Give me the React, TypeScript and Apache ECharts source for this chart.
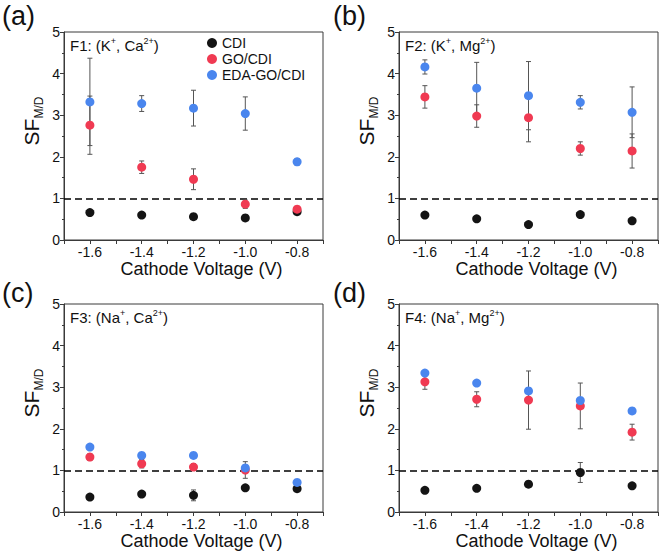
import React, { useEffect, useRef } from "react";
import * as echarts from "echarts";

const voltages = [-1.6, -1.4, -1.2, -1.0, -0.8];
const seriesNames = ["CDI", "GO/CDI", "EDA-GO/CDI"];
const yTicks = [0, 1, 2, 3, 4, 5];

// Panel (a) F1: (K+, Ca2+)
const cdiA = [0.66, 0.6, 0.56, 0.53, 0.68];
const cdiAErr = [0.05, 0.04, 0.04, 0.04, 0.05];
const goA = [2.76, 1.75, 1.46, 0.86, 0.74];
const goAErr = [0.7, 0.15, 0.25, 0.1, 0.06];
const edaA = [3.32, 3.28, 3.17, 3.04, 1.88];
const edaAErr = [1.05, 0.19, 0.43, 0.4, 0.08];

// Panel (b) F2: (K+, Mg2+)
const cdiB = [0.6, 0.51, 0.37, 0.61, 0.46];
const cdiBErr = [0.03, 0.03, 0.03, 0.03, 0.03];
const goB = [3.44, 2.98, 2.94, 2.2, 2.14];
const goBErr = [0.27, 0.27, 0.58, 0.16, 0.41];
const edaB = [4.16, 3.65, 3.47, 3.31, 3.07];
const edaBErr = [0.17, 0.62, 0.82, 0.16, 0.61];

// Panel (c) F3: (Na+, Ca2+)
const cdiC = [0.36, 0.43, 0.4, 0.58, 0.56];
const cdiCErr = [0.03, 0.03, 0.13, 0.04, 0.04];
const goC = [1.32, 1.16, 1.08, 1.01, null];
const goCErr = [0.08, 0.1, 0.08, 0.2, null];
const edaC = [1.56, 1.36, 1.36, 1.06, 0.71];
const edaCErr = [0.03, 0.03, 0.03, 0.06, 0.06];

// Panel (d) F4: (Na+, Mg2+)
const cdiD = [0.52, 0.57, 0.67, 0.95, 0.63];
const cdiDErr = [0.03, 0.03, 0.03, 0.24, 0.03];
const goD = [3.13, 2.71, 2.69, 2.55, 1.92];
const goDErr = [0.18, 0.18, 0.7, 0.55, 0.19];
const edaD = [3.34, 3.1, 2.91, 2.68, 2.43];
const edaDErr = [0.03, 0.03, 0.03, 0.03, 0.03];

const panelLetters = ["(a)", "(b)", "(c)", "(d)"];
const panelTags = ["F1", "F2", "F3", "F4"];
const panelIons = [
  ["K", "+", "Ca", "2+"],
  ["K", "+", "Mg", "2+"],
  ["Na", "+", "Ca", "2+"],
  ["Na", "+", "Mg", "2+"],
];

const colors = ["#141414", "#f03a52", "#4a86ee"];
const FONT = "'Liberation Sans', Arial, sans-serif";

const panels = [
  { vals: [cdiA, goA, edaA], errs: [cdiAErr, goAErr, edaAErr] },
  { vals: [cdiB, goB, edaB], errs: [cdiBErr, goBErr, edaBErr] },
  { vals: [cdiC, goC, edaC], errs: [cdiCErr, goCErr, edaCErr] },
  { vals: [cdiD, goD, edaD], errs: [cdiDErr, goDErr, edaDErr] },
];

const gridPos = [
  { left: 64, top: 32 },
  { left: 399, top: 32 },
  { left: 64, top: 304 },
  { left: 399, top: 304 },
];

function buildOption() {
  const grids: any[] = [];
  const xAxes: any[] = [];
  const yAxes: any[] = [];
  const series: any[] = [];
  const titles: any[] = [];

  panels.forEach((p, i) => {
    grids.push({
      left: gridPos[i].left,
      top: gridPos[i].top,
      width: 259,
      height: 208,
      show: true,
      borderColor: "#3a3a3a",
      borderWidth: 1,
      backgroundColor: "transparent",
    });
    xAxes.push({
      type: "value",
      gridIndex: i,
      min: -1.7,
      max: -0.7,
      interval: 0.1,
      name: "Cathode Voltage (V)",
      nameLocation: "middle",
      nameGap: 13,
      nameTextStyle: { fontSize: 18, color: "#111", fontFamily: FONT, padding: [0, 0, 0, 16] },
      axisLine: { show: true, onZero: false, lineStyle: { color: "#3a3a3a", width: 1 } },
      axisTick: { show: true, inside: false, length: 4, lineStyle: { color: "#3a3a3a" } },
      splitLine: { show: false },
      axisLabel: {
        fontSize: 14,
        color: "#111",
        fontFamily: FONT,
        margin: 5,
        formatter: (v: number) => {
          const n = Math.round(v * 10);
          return n % 2 === 0 && n > -17 && n < -7 ? (n / 10).toFixed(1) : "";
        },
      },
    });
    yAxes.push({
      type: "value",
      gridIndex: i,
      min: yTicks[0],
      max: yTicks[yTicks.length - 1],
      interval: 1,
      name: "{a|SF}{b|M/D}",
      nameLocation: "middle",
      nameRotate: 90,
      nameGap: 19,
      nameTextStyle: {
        padding: [0, 0, 0, 30],
        rich: {
          a: { fontSize: 21, lineHeight: 28, verticalAlign: "middle", fontFamily: FONT, color: "#111" },
          b: { fontSize: 12, lineHeight: 12, verticalAlign: "bottom", fontFamily: FONT, color: "#111" },
        },
      },
      axisLine: { show: true, onZero: false, lineStyle: { color: "#3a3a3a", width: 1 } },
      axisTick: { show: true, inside: false, length: 4, lineStyle: { color: "#3a3a3a" } },
      minorTick: { show: true, splitNumber: 2, length: 2, lineStyle: { color: "#3a3a3a" } },
      splitLine: { show: false },
      axisLabel: { fontSize: 14, color: "#111", fontFamily: FONT, margin: 4 },
    });

    p.vals.forEach((vals, s) => {
      const pts = voltages
        .map((v, k) => (vals[k] == null ? null : [v, vals[k]]))
        .filter((d) => d !== null);
      const sc: any = {
        type: "scatter",
        name: seriesNames[s],
        xAxisIndex: i,
        yAxisIndex: i,
        symbol: "circle",
        symbolSize: 9,
        itemStyle: { color: colors[s], opacity: 1 },
        data: pts,
        z: 5 + s,
      };
      if (s === 2) {
        sc.markLine = {
          silent: true,
          symbol: "none",
          label: { show: false },
          lineStyle: { type: [7, 4], color: "#000", width: 1.5 },
          data: [{ yAxis: 1 }],
          z: 2,
        };
      }
      series.push(sc);
    });

    p.vals.forEach((vals, s) => {
      const errs = p.errs[s];
      const eData = voltages
        .map((v, k) =>
          vals[k] == null || errs[k] == null
            ? null
            : [v, (vals[k] as number) - (errs[k] as number), (vals[k] as number) + (errs[k] as number)]
        )
        .filter((d) => d !== null);
      series.push({
        type: "custom",
        name: "err-" + i + "-" + s,
        xAxisIndex: i,
        yAxisIndex: i,
        z: 3,
        silent: true,
        encode: { x: 0, y: [1, 2] },
        data: eData,
        renderItem: (params: any, api: any) => {
          const x = api.value(0);
          const lo = api.value(1);
          const hi = api.value(2);
          const p1 = api.coord([x, hi]);
          const p2 = api.coord([x, lo]);
          const w = 2.5;
          const st = { stroke: "#555", lineWidth: 1 };
          return {
            type: "group",
            children: [
              { type: "line", shape: { x1: p1[0], y1: p1[1], x2: p2[0], y2: p2[1] }, style: st },
              { type: "line", shape: { x1: p1[0] - w, y1: p1[1], x2: p1[0] + w, y2: p1[1] }, style: st },
              { type: "line", shape: { x1: p2[0] - w, y1: p2[1], x2: p2[0] + w, y2: p2[1] }, style: st },
            ],
          };
        },
      });
    });

    const col = i % 2;
    const row = Math.floor(i / 2);
    titles.push({
      text: panelLetters[i],
      left: 2 + col * 331,
      top: 2 + row * 277,
      padding: 0,
      textStyle: { fontSize: 27, fontWeight: "normal", color: "#111", fontFamily: FONT },
    });
    const ion = panelIons[i];
    titles.push({
      text: `{t|${panelTags[i]}: (${ion[0]}}{s|${ion[1]}}{t|, ${ion[2]}}{s|${ion[3]}}{t|)}`,
      left: gridPos[i].left + 6,
      top: gridPos[i].top + 4,
      padding: 0,
      textStyle: {
        fontWeight: "normal",
        rich: {
          t: { fontSize: 15, fontWeight: "normal", lineHeight: 18, verticalAlign: "middle", color: "#111", fontFamily: FONT },
          s: { fontSize: 9, fontWeight: "normal", lineHeight: 9, verticalAlign: "top", color: "#111", fontFamily: FONT },
        },
      },
    });
  });

  return {
    animation: false,
    backgroundColor: "#fff",
    textStyle: { fontFamily: FONT },
    title: titles,
    legend: {
      data: seriesNames,
      orient: "vertical",
      left: 207,
      top: 35,
      itemWidth: 10,
      itemHeight: 10,
      itemGap: 0,
      icon: "circle",
      padding: 0,
      textStyle: { fontSize: 14, lineHeight: 16, color: "#111", fontFamily: FONT },
    },
    grid: grids,
    xAxis: xAxes,
    yAxis: yAxes,
    series,
  };
}

export default function App() {
  const ref = useRef<HTMLDivElement>(null);
  useEffect(() => {
    document.body.style.margin = "0";
    if (!ref.current) return;
    const chart = echarts.init(ref.current, undefined, { renderer: "svg" });
    chart.setOption(buildOption() as any);
    return () => chart.dispose();
  }, []);
  return <div ref={ref} style={{ width: 661, height: 552 }} />;
}
